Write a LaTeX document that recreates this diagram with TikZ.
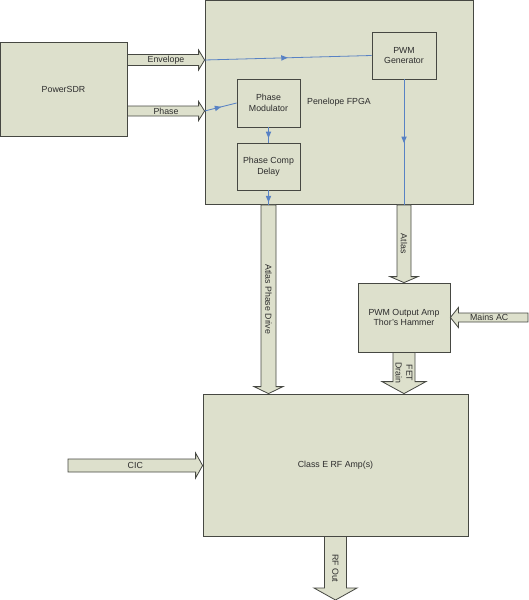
\documentclass[tikz,border=0pt]{standalone}
\usepackage{fontspec}
\setmainfont{Liberation Sans}
\usepackage{tikz}
\usetikzlibrary{shapes,arrows,calc}
\definecolor{boxfill}{RGB}{221,224,204}
\definecolor{boxline}{RGB}{70,72,66}
\definecolor{sigblue}{RGB}{88,130,196}
\definecolor{txt}{RGB}{45,45,45}
% fat arrow: [label opts]{from}{to}{shaft half}{head half}{head length}{label}
\newcommand\fatarrow[7][]{%
  \coordinate (fah) at ($(#3)!#6!(#2)$);
  \draw[fatbody] ($(#2)!#4!90:(#3)$) -- ($(fah)!#4!90:(#3)$) -- ($(fah)!#5!90:(#3)$)
    -- (#3) -- ($(fah)!#5!-90:(#3)$) -- ($(fah)!#4!-90:(#3)$) -- ($(#2)!#4!-90:(#3)$) -- cycle;
  \path (#2) -- (#3) node[midway,lbl,#1] {#7};
}
\tikzset{
  blk/.style={draw=boxline, fill=boxfill, line width=0.8pt, align=center, text=txt,
    inner sep=0pt, font=\fontsize{8.8}{10.7}\selectfont},
  fatbody/.style={draw=boxline, fill=boxfill, line width=0.8pt},
  lbl/.style={text=txt, inner sep=0pt, align=center, font=\fontsize{8.8}{10.7}\selectfont},
  sig/.style={draw=sigblue, line width=0.8pt},
  midtri/.style={isosceles triangle, isosceles triangle stretches, fill=sigblue, draw=none,
    sloped, allow upside down, minimum height=6.5pt, minimum width=5.5pt, inner sep=0pt}
}
\begin{document}
\begin{tikzpicture}[x=1pt,y=1pt]
\useasboundingbox (0,0) rectangle (529,-600);

% to draw blocks
\node [blk, minimum width=127pt, minimum height=94pt] (sdr) at (63.5,-89) {PowerSDR};
\node [blk, minimum width=268pt, minimum height=204pt] (fpga) at (339,-102.5) {Penelope FPGA};
\node [blk, minimum width=64pt, minimum height=47pt] (pwm) at (404,-55.5) {PWM\\Generator};
\node [blk, minimum width=63pt, minimum height=48pt] (mod) at (268.5,-103) {Phase\\Modulator};
\node [blk, minimum width=63pt, minimum height=47pt] (delay) at (268.5,-166.5) {Phase Comp\\Delay};
\node [blk, minimum width=92pt, minimum height=69pt] (amp) at (404,-317.5) {PWM Output Amp\\Thor's Hammer};
\node [blk, minimum width=265pt, minimum height=142pt] (classe) at (335.5,-465) {Class E RF Amp(s)};

% to draw fat arrows
\fatarrow{sdr.east |- 0,-60}{fpga.west |- 0,-60}{5.5pt}{10pt}{6pt}{Envelope}
\fatarrow{sdr.east |- 0,-111}{fpga.west |- 0,-111}{5pt}{9.5pt}{6pt}{Phase}
\fatarrow[rotate=-90]{delay.south |- fpga.south}{delay.south |- classe.north}{7.5pt}{14.5pt}{7pt}{Atlas Phase Drive}
\fatarrow[rotate=-90]{pwm.south |- fpga.south}{amp.north}{7pt}{14pt}{6pt}{Atlas}
\fatarrow[rotate=-90]{amp.south}{amp.south |- classe.north}{11pt}{22pt}{12pt}{FET\\Drain}
\fatarrow{528,-317.5}{amp.east}{4.5pt}{10pt}{8pt}{Mains AC}
\fatarrow{68,-465.5}{classe.west |- 0,-465.5}{6.5pt}{12.5pt}{7pt}{CIC}
\fatarrow[rotate=-90]{classe.south}{classe.south |- 0,-600}{11pt}{21.5pt}{12pt}{RF Out}

% to draw signal lines inside the FPGA
\draw [sig] (fpga.west |- 0,-60) -- (pwm.west) node[midtri, pos=0.47] {};
\draw [sig] (fpga.west |- 0,-111) -- (mod.west) node[midtri, pos=0.38] {};
\draw [sig] (mod.south) -- (delay.north) node[midtri, pos=0.4] {};
\draw [sig] (delay.south) -- (delay.south |- fpga.south) node[midtri, pos=0.5] {};
\draw [sig] (pwm.south) -- (pwm.south |- fpga.south) node[midtri, pos=0.47] {};
\end{tikzpicture}
\end{document}
